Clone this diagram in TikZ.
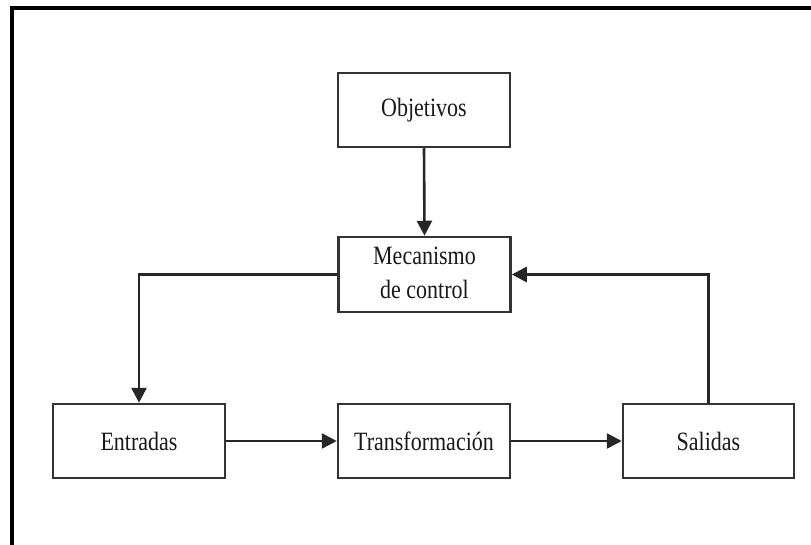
\documentclass[tikz,border=0pt]{standalone}
\usepackage{fontspec}
\setmainfont{Liberation Serif}
\usetikzlibrary{arrows.meta}
\newcommand{\tall}[1]{\scalebox{1}[1.2]{#1}}
\begin{document}
\begin{tikzpicture}[x=1pt,y=-1pt,
  block/.style={draw=black!80, line width=2.5pt, fill=white,
    minimum width=172pt, minimum height=74pt, inner sep=0pt,
    font=\fontsize{22}{29}\selectfont, text=black!90},
  flow/.style={draw=black!85, line width=2.6pt,
    -{Triangle[length=15pt,width=15pt]}},
  frame/.style={draw=black, line width=4pt, line join=miter}]
\useasboundingbox (0,0) rectangle (811,545);

% outer frame (top and left edges)
\draw[frame] (12,545) -- (12,8) -- (811,8);

% blocks
\node[block] (obj) at (424,110) {\tall{Objetivos}};
\node[block, minimum height=75pt] (mec) at (424.5,274.5)
  {\tall{\begin{tabular}{@{}c@{}}Mecanismo\\de control\end{tabular}}};
\node[block] (ent) at (139,441) {\tall{Entradas}};
\node[block] (tra) at (424,441) {\tall{Transformación}};
\node[block, minimum width=171pt] (sal) at (708.5,441) {\tall{Salidas}};

% connectors
\draw[flow] (obj.south) -- (mec.north);
\draw[flow] (mec.west) -| (ent.north);
\draw[flow] (ent.east) -- (tra.west);
\draw[flow] (tra.east) -- (sal.west);
\draw[flow] (sal.north) |- (mec.east);
\end{tikzpicture}
\end{document}
